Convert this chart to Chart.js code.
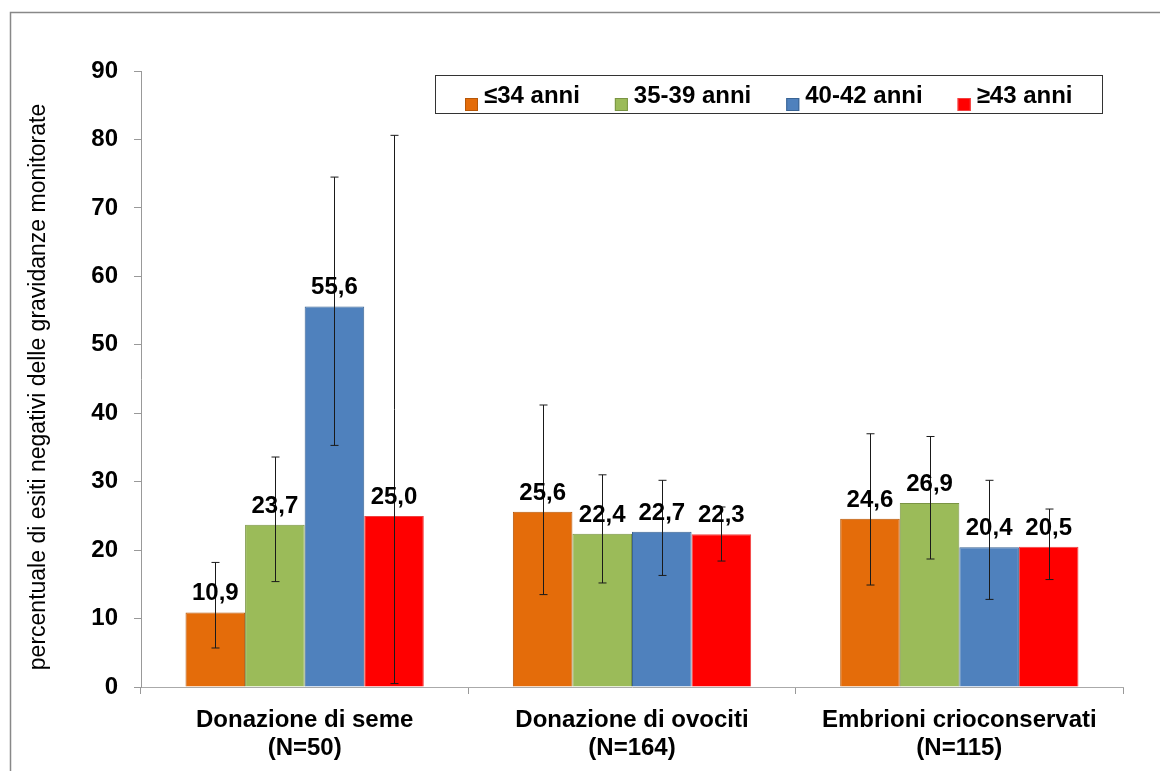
<!DOCTYPE html>
<html>
<head>
<meta charset="utf-8">
<script src="https://cdn.jsdelivr.net/npm/chart.js@4"></script>
<style>
  body { margin: 0; background: #fff; }
  #wrap { width: 1160px; height: 771px; }
</style>
</head>
<body>
<div id="wrap"><canvas id="chart" width="1160" height="771"></canvas></div>
<script>
// Dati del grafico
const categorie = [
    ['Donazione di seme', '(N=50)'],
    ['Donazione di ovociti', '(N=164)'],
    ['Embrioni crioconservati', '(N=115)']
];
const fasceEta = ['≤34 anni', '35-39 anni', '40-42 anni', '≥43 anni'];

const valori34 = [10.9, 25.6, 24.6];
const valori35_39 = [23.7, 22.4, 26.9];
const valori40_42 = [55.6, 22.7, 20.4];
const valori43 = [25.0, 22.3, 20.5];

// Limiti inferiori e superiori degli intervalli
const min34 = [5.7, 13.5, 14.9];
const max34 = [18.2, 41.2, 37.0];
const min35_39 = [15.4, 15.2, 18.7];
const max35_39 = [33.6, 31.0, 36.6];
const min40_42 = [35.3, 16.3, 12.8];
const max40_42 = [74.5, 30.2, 30.2];
const min43 = [0.5, 18.4, 15.7];
const max43 = [80.6, 26.3, 26.0];

const yTicks = [0, 10, 20, 30, 40, 50, 60, 70, 80, 90];
const titoloY = 'percentuale di esiti negativi delle gravidanze monitorate';

const FONT = "'Liberation Sans', Arial, sans-serif";

const colori = ['#E46C0A', '#9BBB59', '#4F81BD', '#FF0000'];
const bordi = ['#B65708', '#7A9444', '#3A6494', '#F04040'];

const serie = [valori34, valori35_39, valori40_42, valori43];
const minimi = [min34, min35_39, min40_42, min43];
const massimi = [max34, max35_39, max40_42, max43];

// Cornice esterna + titolo asse y
const cornice = {
    id: 'cornice',
    beforeDraw(chart) {
        const ctx = chart.ctx;
        ctx.save();
        ctx.fillStyle = '#fff';
        ctx.fillRect(0, 0, chart.width, chart.height);
        ctx.strokeStyle = '#888';
        ctx.lineWidth = 1.5;
        ctx.strokeRect(10.5, 12.5, 1300, 900);
        // titolo verticale
        ctx.translate(39, 387);
        ctx.rotate(-Math.PI / 2);
        ctx.fillStyle = '#000';
        ctx.font = '23px ' + FONT;
        ctx.textAlign = 'center';
        ctx.textBaseline = 'middle';
        ctx.fillText(titoloY, 0, 0);
        ctx.restore();
    }
};

// Barre di errore + etichette dei valori
const barreErrore = {
    id: 'barreErrore',
    afterDatasetsDraw(chart) {
        const ctx = chart.ctx;
        const y = chart.scales.y;
        ctx.save();
        chart.data.datasets.forEach((ds, i) => {
            const meta = chart.getDatasetMeta(i);
            meta.data.forEach((bar, j) => {
                const yHi = y.getPixelForValue(ds.errHigh[j]);
                const yLo = y.getPixelForValue(ds.errLow[j]);
                const x = Math.round(bar.x) + 0.5;
                ctx.strokeStyle = '#1a1a1a';
                ctx.lineWidth = 1;
                ctx.beginPath();
                ctx.moveTo(x, yHi); ctx.lineTo(x, yLo);
                ctx.moveTo(x - 4, yHi); ctx.lineTo(x + 4, yHi);
                ctx.moveTo(x - 4, yLo); ctx.lineTo(x + 4, yLo);
                ctx.stroke();
            });
        });
        ctx.fillStyle = '#000';
        ctx.font = 'bold 24px ' + FONT;
        ctx.textAlign = 'center';
        ctx.textBaseline = 'alphabetic';
        chart.data.datasets.forEach((ds, i) => {
            const meta = chart.getDatasetMeta(i);
            meta.data.forEach((bar, j) => {
                const testo = ds.data[j].toFixed(1).replace('.', ',');
                ctx.fillText(testo, bar.x, bar.y - 12);
            });
        });
        ctx.restore();
    }
};

// Legenda in riquadro
const legenda = {
    id: 'legenda',
    afterDraw(chart) {
        const ctx = chart.ctx;
        ctx.save();
        ctx.fillStyle = '#fff';
        ctx.fillRect(435.5, 75.5, 667, 38);
        ctx.strokeStyle = '#333';
        ctx.lineWidth = 1;
        ctx.strokeRect(435.5, 75.5, 667, 38);
        ctx.font = 'bold 24px ' + FONT;
        ctx.textBaseline = 'middle';
        ctx.textAlign = 'left';
        let x = 465;
        chart.data.datasets.forEach(ds => {
            ctx.fillStyle = ds.backgroundColor;
            ctx.fillRect(x, 98, 13, 13);
            ctx.strokeStyle = ds.borderColor;
            ctx.strokeRect(x + 0.5, 98.5, 12, 12);
            ctx.fillStyle = '#000';
            ctx.fillText(ds.label, x + 19, 96);
            x += 19 + ctx.measureText(ds.label).width + 35;
        });
        ctx.restore();
    }
};

new Chart(document.getElementById('chart').getContext('2d'), {
    type: 'bar',
    data: {
        labels: categorie,
        datasets: fasceEta.map((nome, i) => ({
            label: nome,
            data: serie[i],
            errLow: minimi[i],
            errHigh: massimi[i],
            backgroundColor: colori[i],
            borderColor: bordi[i],
            borderWidth: 1,
            categoryPercentage: 0.728,
            barPercentage: 1.0
        }))
    },
    options: {
        responsive: false,
        animation: false,
        layout: { padding: { top: 71, right: 37, bottom: 0, left: 0 } },
        plugins: {
            legend: { display: false },
            tooltip: { enabled: false }
        },
        scales: {
            x: {
                afterFit: s => { s.height = 84; },
                grid: {
                    display: true,
                    drawOnChartArea: false,
                    tickLength: 7,
                    color: '#999',
                    offset: true
                },
                border: { color: '#aaa', width: 1 },
                ticks: {
                    color: '#000',
                    padding: 12,
                    font: { family: FONT, size: 24, weight: 'bold', lineHeight: 1.17 }
                }
            },
            y: {
                min: 0,
                max: 90,
                afterFit: s => { s.width = 141; },
                afterBuildTicks: s => { s.ticks = yTicks.map(v => ({ value: v })); },
                grid: {
                    display: true,
                    drawOnChartArea: false,
                    tickLength: 7,
                    color: '#999'
                },
                border: { color: '#999', width: 1 },
                ticks: {
                    color: '#000',
                    padding: 16,
                    font: { family: FONT, size: 24, weight: 'bold' }
                }
            }
        }
    },
    plugins: [cornice, barreErrore, legenda]
});
</script>
</body>
</html>
